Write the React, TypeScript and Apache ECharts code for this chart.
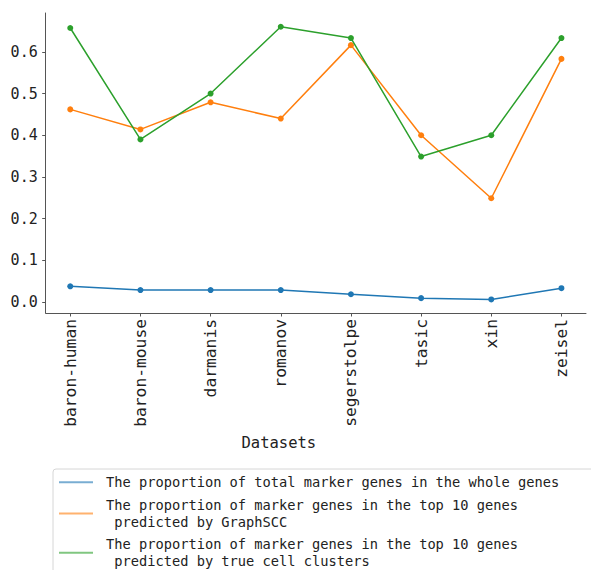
import React, { useEffect, useRef } from "react";
import * as echarts from "echarts";

const categories = ["baron-human", "baron-mouse", "darmanis", "romanov", "segerstolpe", "tasic", "xin", "zeisel"];
const totalMarker = [0.038, 0.029, 0.029, 0.029, 0.019, 0.0096, 0.0065, 0.0335];
const graphSCC = [0.462, 0.414, 0.479, 0.44, 0.616, 0.4, 0.249, 0.583];
const trueClusters = [0.657, 0.39, 0.5, 0.66, 0.633, 0.349, 0.4, 0.633];
const yTicks = [0, 0.1, 0.2, 0.3, 0.4, 0.5, 0.6];
const seriesNames = [
  "The proportion of total marker genes in the whole genes",
  "The proportion of marker genes in the top 10 genes\n predicted by GraphSCC",
  "The proportion of marker genes in the top 10 genes\n predicted by true cell clusters",
];
const colors = ["#1f77b4", "#ff7f0e", "#2ca02c"];

const FONT = "DejaVu Sans Mono";

export default function App() {
  const ref = useRef<HTMLDivElement>(null);
  useEffect(() => {
    if (!ref.current) return;
    const chart = echarts.init(ref.current, undefined, { renderer: "svg" });
    const xIdx = categories.map((_, i) => i);
    const mk = (vals: number[], i: number) => ({
      name: seriesNames[i],
      type: "line",
      data: vals.map((v, k) => [k, v]),
      symbol: "circle",
      symbolSize: 6,
      color: colors[i],
      lineStyle: { width: 1.5, color: colors[i] },
      itemStyle: { color: colors[i] },
      z: 2 + i,
    });
    chart.setOption({
      animation: false,
      backgroundColor: "#fff",
      grid: { left: 45.7, right: 5, top: 13, bottom: 257 },
      xAxis: {
        type: "value",
        min: -0.35,
        max: 7.35,
        name: "Datasets",
        nameLocation: "middle",
        nameGap: 114,
        nameTextStyle: { fontFamily: FONT, fontSize: 15.5, color: "#222", padding: [0, 74, 0, 0] },
        axisLine: { show: true, onZero: false, lineStyle: { color: "#555", width: 1 } },
        axisTick: { show: true, length: 3.5, customValues: xIdx, lineStyle: { color: "#555" } },
        axisLabel: {
          customValues: xIdx,
          rotate: 90,
          margin: 6,
          fontFamily: FONT,
          fontSize: 16.3,
          color: "#222",
          formatter: (v: number) => categories[Math.round(v)] ?? "",
        },
        splitLine: { show: false },
      },
      yAxis: {
        type: "value",
        min: -0.026,
        max: 0.693,
        axisLine: { show: true, onZero: false, lineStyle: { color: "#555", width: 1 } },
        axisTick: { show: true, length: 3.5, customValues: yTicks, lineStyle: { color: "#555" } },
        axisLabel: {
          customValues: yTicks,
          margin: 8,
          fontFamily: FONT,
          fontSize: 15,
          color: "#222",
          formatter: (v: number) => v.toFixed(1),
        },
        splitLine: { show: false },
      },
      legend: {
        type: "plain",
        orient: "vertical",
        left: 53,
        top: 469,
        height: 200,
        width: 600,
        itemGap: 6,
        itemWidth: 34,
        itemHeight: 2,
        icon: "rect",
        padding: [5, 40, 5, 6],
        borderColor: "#d6d6d6",
        borderWidth: 1,
        borderRadius: 3,
        backgroundColor: "rgba(255,255,255,0.8)",
        itemStyle: { opacity: 0.6 },
        textStyle: { fontFamily: FONT, fontSize: 13.7, lineHeight: 16.7, color: "#222", padding: [0, 0, 0, 8] },
        data: seriesNames,
      },
      series: [mk(totalMarker, 0), mk(graphSCC, 1), mk(trueClusters, 2)],
    });
    return () => chart.dispose();
  }, []);
  return <div ref={ref} style={{ position: "fixed", left: 0, top: 0, width: 591, height: 570 }} />;
}
